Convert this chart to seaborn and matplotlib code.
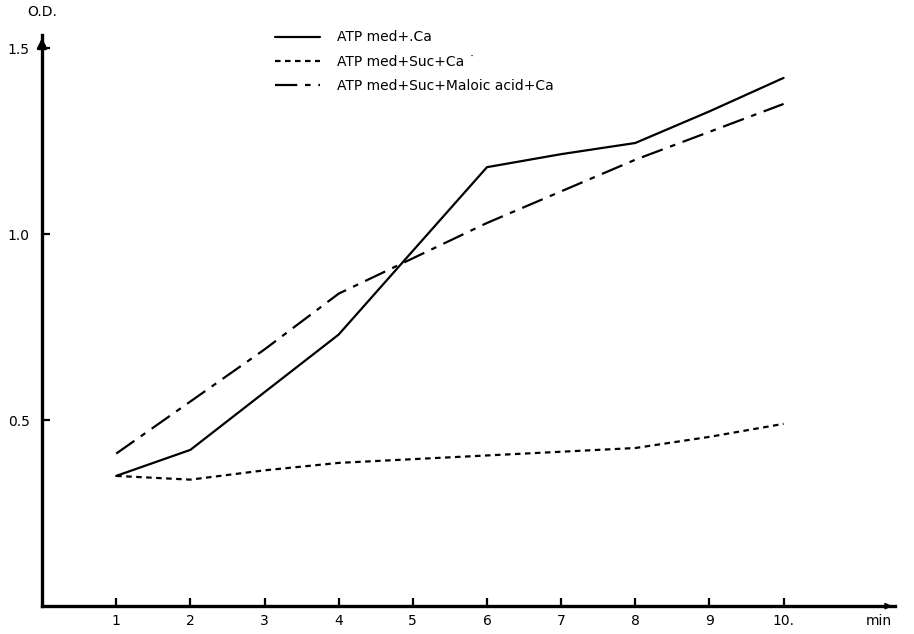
import matplotlib
matplotlib.use("Agg")
import matplotlib.pyplot as plt
import seaborn as sns
import pandas as pd

minutes = [1, 2, 3, 4, 5, 6, 7, 8, 9, 10]
atp_ca = [0.35, 0.42, 0.575, 0.73, 0.955, 1.18, 1.215, 1.245, 1.33, 1.42]
atp_suc_ca = [0.35, 0.34, 0.365, 0.385, 0.395, 0.405, 0.415, 0.425, 0.455, 0.49]
atp_suc_mal_ca = [0.41, 0.55, 0.69, 0.84, 0.935, 1.03, 1.115, 1.20, 1.275, 1.35]
series_names = ["ATP med+.Ca", "ATP med+Suc+Ca \u02d9", "ATP med+Suc+Maloic acid+Ca"]
x_tick_labels = ["1", "2", "3", "4", "5", "6", "7", "8", "9", "10."]
y_ticks = [0.5, 1.0, 1.5]
y_tick_labels = ["0.5", "1.0", "1.5"]

rows = []
for name, vals in zip(series_names, [atp_ca, atp_suc_ca, atp_suc_mal_ca]):
    for m, v in zip(minutes, vals):
        rows.append({"min": m, "OD": v, "series": name})
df = pd.DataFrame(rows)

sns.set_theme(style="white")
plt.rcParams['font.family'] = ['DejaVu Sans']
plt.rcParams['text.color'] = 'black'
plt.rcParams['xtick.color'] = 'black'
plt.rcParams['ytick.color'] = 'black'
plt.rcParams['xtick.labelcolor'] = 'black'
plt.rcParams['ytick.labelcolor'] = 'black'

fig = plt.figure(figsize=(9.14, 6.34), dpi=100)
ax = fig.add_axes([0.046, 0.044, 0.933, 0.9006])

sns.lineplot(data=df, x="min", y="OD", style="series", color="black",
             dashes={series_names[0]: "", series_names[1]: (2.5, 2),
                     series_names[2]: (10, 3.5, 2.5, 3.5)},
             linewidth=1.6, ax=ax, legend=True)

ax.set_xlim(0, 11.5)
ax.set_ylim(0, 1.535)
ax.set_xticks(minutes)
ax.set_xticklabels(x_tick_labels, fontsize=10, color="black")
ax.set_yticks(y_ticks)
ax.set_yticklabels(y_tick_labels, fontsize=10, color="black")
ax.set_xlabel("")
ax.set_ylabel("")
ax.tick_params(axis="both", direction="in", length=6, width=1.6, colors="black",
               bottom=True, left=True, pad=6)
ax.tick_params(axis="y", pad=9)
for s in ["top", "right"]:
    ax.spines[s].set_visible(False)
for s in ["left", "bottom"]:
    ax.spines[s].set_linewidth(2.4)
    ax.spines[s].set_color("black")

# axis arrows
ax.annotate("", xy=(0, 1.0), xytext=(0, 0.97), xycoords="axes fraction",
            arrowprops=dict(arrowstyle="-|>", color="black", lw=2, mutation_scale=14),
            annotation_clip=False)
ax.annotate("", xy=(1.0, 0), xytext=(0.98, 0), xycoords="axes fraction",
            arrowprops=dict(arrowstyle="-|>", color="black", lw=1.5, mutation_scale=8),
            annotation_clip=False)

fig.text(0.046, 0.981, "O.D.", ha="center", va="center", fontsize=10, color="black")
fig.text(0.962, 0.02, "min", ha="center", va="center", fontsize=10, color="black")

leg = ax.legend(loc="upper left", bbox_to_anchor=(0.259, 1.03), frameon=False,
                fontsize=10, handlelength=3.2, handletextpad=1.2, labelspacing=0.75)
for line in leg.get_lines():
    line.set_linewidth(1.6)
for t in leg.get_texts():
    t.set_color("black")

fig.savefig("out.png", dpi=100)
